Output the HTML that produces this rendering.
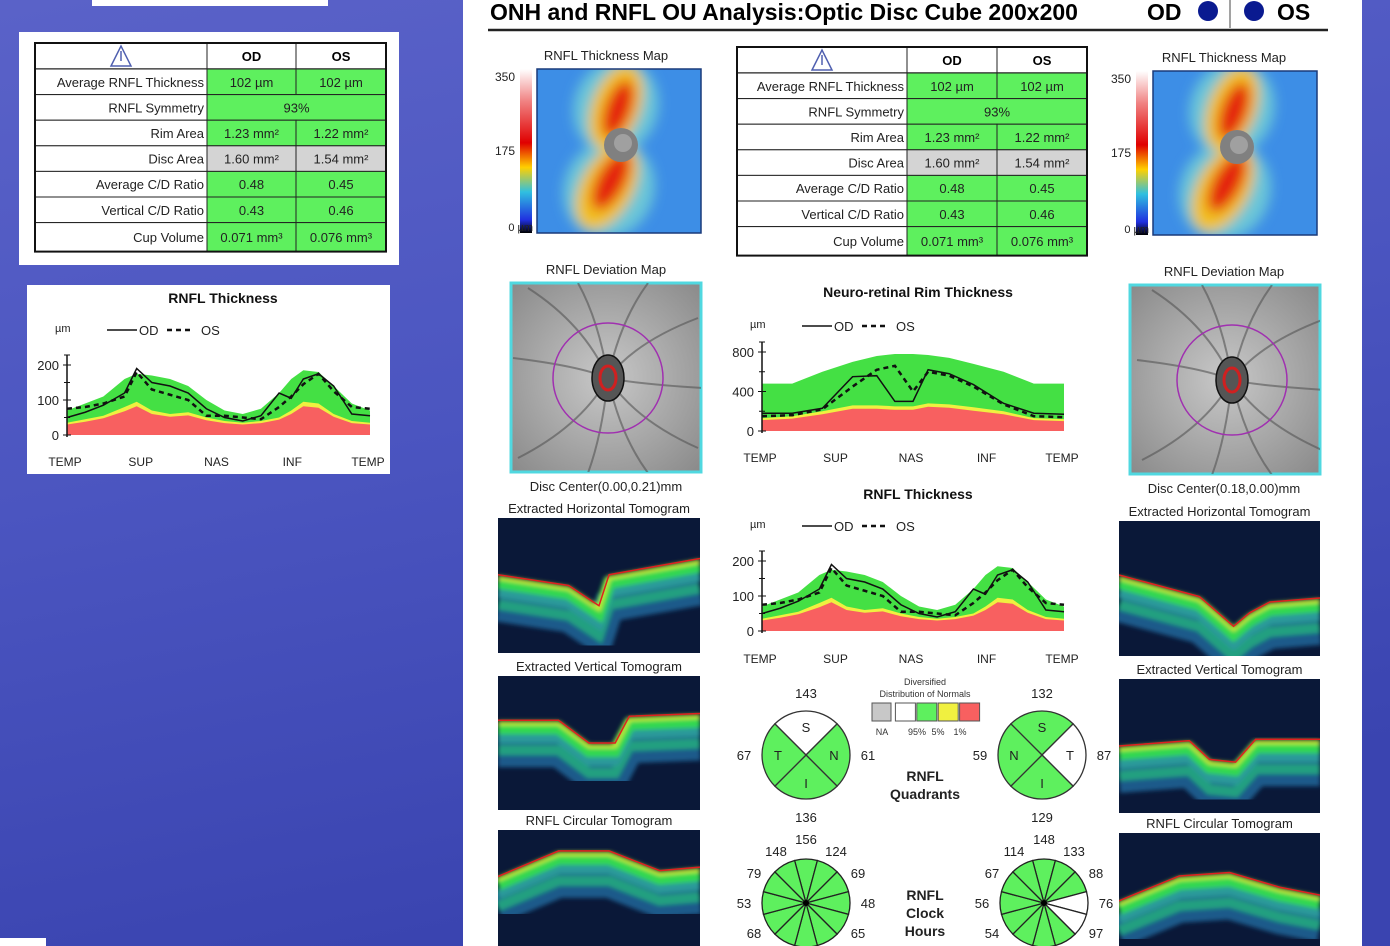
<!DOCTYPE html>
<html><head><meta charset="utf-8"><style>
html,body{margin:0;padding:0;width:1390px;height:946px;overflow:hidden}
svg{display:block;font-family:"Liberation Sans",sans-serif}
</style></head><body>
<svg id="s" width="1390" height="946" viewBox="0 0 1390 946" xmlns="http://www.w3.org/2000/svg">
<defs>
<linearGradient id="bg" x1="0" y1="0" x2="0.3" y2="1"><stop offset="0" stop-color="#5a62c8"/><stop offset="0.5" stop-color="#4b55c0"/><stop offset="1" stop-color="#3a44b0"/></linearGradient>
<linearGradient id="cbar" x1="0" y1="0" x2="0" y2="1"><stop offset="0" stop-color="#ffffff"/><stop offset="0.2" stop-color="#f08080"/><stop offset="0.45" stop-color="#e00000"/><stop offset="0.6" stop-color="#ffd000"/><stop offset="0.75" stop-color="#30c0e0"/><stop offset="0.92" stop-color="#2030e0"/><stop offset="1" stop-color="#000"/></linearGradient>
<filter id="blur6"><feGaussianBlur stdDeviation="6"/></filter>
<filter id="blur2"><feGaussianBlur stdDeviation="2"/></filter>
<radialGradient id="fundus" cx="0.5" cy="0.5" r="0.7"><stop offset="0" stop-color="#c8c8c8"/><stop offset="1" stop-color="#8a8a8a"/></radialGradient>
</defs>
<rect width="1390" height="946" fill="url(#bg)"/>
<rect x="92" y="0" width="236" height="6" fill="#fff"/>
<rect x="19" y="32" width="380" height="233" fill="#fff"/>
<g id="ltable"></g>
<rect x="27" y="285" width="363" height="189" fill="#fff"/>
<g id="lchart"></g>
<rect x="0" y="938" width="46" height="8" fill="#fff"/>
<rect x="463" y="0" width="899" height="946" fill="#fff"/>
<text x="490" y="20" font-size="23" font-weight="bold" fill="#000">ONH and RNFL OU Analysis:Optic Disc Cube 200x200</text>
<text x="1147" y="20" font-size="23" font-weight="bold">OD</text>
<circle cx="1208" cy="11" r="10" fill="#0a1a90"/>
<line x1="1230" y1="0" x2="1230" y2="28" stroke="#444" stroke-width="1"/>
<circle cx="1254" cy="11" r="10" fill="#0a1a90"/>
<text x="1277" y="20" font-size="23" font-weight="bold">OS</text>
<line x1="488" y1="30" x2="1328" y2="30" stroke="#222" stroke-width="2.5"/>
<g id="maps"></g>
<g id="ctable"></g>
<g id="nchart"></g>
<g id="cchart"></g>
<g id="tomos"></g>
<g id="quads"></g>
<g id="clocks"></g>
</svg>
<script>
// ---- chart data ----
const thickPos   = [0,0.06,0.12,0.19,0.23,0.28,0.34,0.40,0.46,0.52,0.58,0.64,0.70,0.74,0.78,0.83,0.88,0.94,1];
const thickOD    = [50,65,85,120,190,150,140,120,75,50,40,55,120,105,160,175,140,60,55];
const thickOS    = [75,80,90,110,180,130,115,100,55,55,50,45,80,110,145,175,125,80,75];
const thickGreen = [70,90,110,160,175,170,160,140,100,70,60,75,120,160,185,180,140,90,70];
const thickYellow= [35,45,55,80,95,70,60,65,50,40,35,40,50,70,95,90,60,40,35];
const thickRed   = [30,38,48,68,82,60,52,56,42,34,30,34,44,60,82,78,52,34,30];
const thickTicks = [0,100,200];
const xCats      = ["TEMP","SUP","NAS","INF","TEMP"];
const rimPos     = [0,0.1,0.2,0.3,0.38,0.44,0.5,0.55,0.62,0.7,0.8,0.9,1];
const rimOD      = [180,180,230,550,560,300,300,620,580,470,280,180,170];
const rimOS      = [150,160,220,450,620,660,400,600,560,450,270,150,140];
const rimGreen   = [480,480,600,700,760,780,780,770,740,680,600,480,480];
const rimYellow  = [130,150,200,260,260,250,250,280,270,240,200,130,120];
const rimRed     = [110,125,170,225,225,215,215,245,235,205,170,110,100];
const rimTicks   = [0,400,800];
const quadLabels = ["S","N","I","T"];
const quadOD     = [143,61,136,67];
const quadOS     = [132,59,129,87];
const clockOD    = [156,124,69,48,65,0,0,0,68,53,79,148];
const clockOS    = [148,133,88,76,97,0,0,0,54,56,67,114];
const tableRows  = ["Average RNFL Thickness","RNFL Symmetry","Rim Area","Disc Area","Average C/D Ratio","Vertical C/D Ratio","Cup Volume"];
const tableOD    = ["102 µm","93%","1.23 mm²","1.60 mm²","0.48","0.43","0.071 mm³"];
const tableOS    = ["102 µm","","1.22 mm²","1.54 mm²","0.45","0.46","0.076 mm³"];

const NS="http://www.w3.org/2000/svg";
function mk(tag,attrs,parent,txt){const e=document.createElementNS(NS,tag);for(const k in attrs)e.setAttribute(k,attrs[k]);if(txt!==undefined)e.textContent=txt;parent.appendChild(e);return e;}

function table(g,x,y,w,c1,c2,hdr,rh,lastH,fs){
  let yy=y;
  mk('rect',{x:x,y:yy,width:w,height:hdr,fill:'#fff',stroke:'#222','stroke-width':1.5},g);
  const tri=mk('path',{d:`M${(x+c1)/2-10} ${yy+hdr-3} L${(x+c1)/2} ${yy+3} L${(x+c1)/2+10} ${yy+hdr-3} Z M${(x+c1)/2} ${yy+8} V${yy+hdr-8}`,fill:'none',stroke:'#5060b0','stroke-width':1.5},g);
  
  
  mk('line',{x1:c1,y1:yy,x2:c1,y2:yy+hdr,stroke:'#222'},g);
  mk('line',{x1:c2,y1:yy,x2:c2,y2:yy+hdr,stroke:'#222'},g);
  mk('text',{x:(c1+c2)/2,y:yy+hdr/2+5,'font-size':fs,'font-weight':'bold','text-anchor':'middle'},g,'OD');
  mk('text',{x:(c2+x+w)/2,y:yy+hdr/2+5,'font-size':fs,'font-weight':'bold','text-anchor':'middle'},g,'OS');
  yy+=hdr;
  tableRows.forEach((r,i)=>{
    const h=i===tableRows.length-1?lastH:rh;
    const fill=i===3?'#d4d4d4':'#5ef05e';
    mk('rect',{x:x,y:yy,width:c1-x,height:h,fill:'#fff',stroke:'#222'},g);
    const row=mk('text',{x:c1-3,y:yy+h/2+5,'font-size':fs,'text-anchor':'end',fill:'#222'},g,r);
    
    
    if(tableOS[i]===''){
      mk('rect',{x:c1,y:yy,width:x+w-c1,height:h,fill:fill,stroke:'#222'},g);
      mk('text',{x:(c1+x+w)/2,y:yy+h/2+5,'font-size':fs,'text-anchor':'middle',fill:'#222'},g,tableOD[i]);
    }else{
      mk('rect',{x:c1,y:yy,width:c2-c1,height:h,fill:fill,stroke:'#222'},g);
      mk('rect',{x:c2,y:yy,width:x+w-c2,height:h,fill:fill,stroke:'#222'},g);
      mk('text',{x:(c1+c2)/2,y:yy+h/2+5,'font-size':fs,'text-anchor':'middle',fill:'#222'},g,tableOD[i]);
      mk('text',{x:(c2+x+w)/2,y:yy+h/2+5,'font-size':fs,'text-anchor':'middle',fill:'#222'},g,tableOS[i]);
    }
    yy+=h;
  });
  mk('rect',{x:x,y:y,width:w,height:yy-y,fill:'none',stroke:'#111','stroke-width':2},g);
}
table(document.getElementById('ltable'),35,43,351,207,296,26,25.6,29,13);
table(document.getElementById('ctable'),737,47,350,907,997,26,25.6,29,13);

function lineChart(g,o){
  const {x0,x1,y0,yTop,vmax,pos,od,os,green,yellow,red,ticks,title,tx,ty,ly,lab}=o;
  const X=p=>x0+p*(x1-x0), Y=v=>y0-(v/vmax)*(y0-yTop);
  mk('text',{x:tx,y:ty,'font-size':14,'font-weight':'bold','text-anchor':'middle',fill:'#111'},g,title);
  const area=(arr,col,nm)=>{let d=`M${X(pos[0])} ${y0}`;pos.forEach((p,i)=>d+=` L${X(p)} ${Y(arr[i])}`);d+=` L${X(pos[pos.length-1])} ${y0} Z`;const e=mk('path',{d:d,fill:col},g);};
  area(green,'#44e044','normal-band-green');area(yellow,'#f0f040','borderline-band-yellow');area(red,'#f86060','outside-band-red');
  const line=(arr,dash,nm)=>{const pts=pos.map((p,i)=>X(p)+','+Y(arr[i])).join(' ');const e=mk('polyline',{points:pts,fill:'none',stroke:'#111','stroke-width':dash?2.5:1.5,'stroke-dasharray':dash?'5,4':'none'},g);};
  line(od,false,'od-line');line(os,true,'os-line');
  mk('line',{x1:x0,y1:y0+2,x2:x0,y2:yTop-10,stroke:'#111','stroke-width':1.5},g);
  ticks.forEach(t=>{mk('line',{x1:x0-4,y1:Y(t),x2:x0+4,y2:Y(t),stroke:'#111'},g);mk('text',{x:x0-8,y:Y(t)+5,'font-size':13,'text-anchor':'end',fill:'#222'},g,String(t));});
  for(let i=0;i<ticks.length-1;i++){const m=(ticks[i]+ticks[i+1])/2;mk('line',{x1:x0-3,y1:Y(m),x2:x0+3,y2:Y(m),stroke:'#111'},g);}
  mk('line',{x1:x0-3,y1:yTop-10,x2:x0+3,y2:yTop-10,stroke:'#111'},g);
  mk('text',{x:x0-12,y:ly+2,'font-size':11,fill:'#222'},g,'µm');
  mk('line',{x1:x0+40,y1:ly,x2:x0+70,y2:ly,stroke:'#111','stroke-width':1.5},g);
  mk('text',{x:x0+72,y:ly+5,'font-size':13,fill:'#222'},g,'OD');
  mk('line',{x1:x0+100,y1:ly,x2:x0+126,y2:ly,stroke:'#111','stroke-width':2.5,'stroke-dasharray':'5,4'},g);
  mk('text',{x:x0+134,y:ly+5,'font-size':13,fill:'#222'},g,'OS');
  xCats.forEach((c,i)=>{const e=mk('text',{x:X(i/4)-2,y:lab,'font-size':12,'text-anchor':'middle',fill:'#222'},g,c);});
}
lineChart(document.getElementById('lchart'),{x0:67,x1:370,y0:435,yTop:365,vmax:200,pos:thickPos,od:thickOD,os:thickOS,green:thickGreen,yellow:thickYellow,red:thickRed,ticks:thickTicks,title:'RNFL Thickness',tx:223,ty:303,ly:330,lab:466});
lineChart(document.getElementById('nchart'),{x0:762,x1:1064,y0:431,yTop:352,vmax:800,pos:rimPos,od:rimOD,os:rimOS,green:rimGreen,yellow:rimYellow,red:rimRed,ticks:rimTicks,title:'Neuro-retinal Rim Thickness',tx:918,ty:297,ly:326,lab:462});
lineChart(document.getElementById('cchart'),{x0:762,x1:1064,y0:631,yTop:561,vmax:200,pos:thickPos,od:thickOD,os:thickOS,green:thickGreen,yellow:thickYellow,red:thickRed,ticks:thickTicks,title:'RNFL Thickness',tx:918,ty:499,ly:526,lab:663});

// ---- thickness and deviation maps (images) ----
const maps=document.getElementById('maps');
function thickMap(x,y,titleX,titleY,side){
  const g=mk('g',{},maps);
  
  
  mk('text',{x:titleX,y:titleY,'font-size':13,'text-anchor':'middle',fill:'#222'},g,'RNFL Thickness Map');
  mk('rect',{x:x-17,y:y,width:12,height:164,fill:'url(#cbar)'},g);
  mk('text',{x:x-22,y:y+12,'font-size':12,'text-anchor':'end',fill:'#222'},g,'350');
  mk('text',{x:x-22,y:y+86,'font-size':12,'text-anchor':'end',fill:'#222'},g,'175');
  mk('text',{x:x-4,y:y+162,'font-size':11,'text-anchor':'end',fill:'#222'},g,'0 µm');
  mk('rect',{x:x,y:y,width:164,height:164,fill:'#3d8ee6'},g);
  const cid='mc'+side;
  const cp=mk('clipPath',{id:cid},g);
  mk('rect',{x:x,y:y,width:164,height:164},cp);
  const outer=mk('g',{'clip-path':`url(#${cid})`},g);
  const c=mk('g',{filter:'url(#blur6)'},outer);
  const cx=x+84,cy=y+76;
  mk('ellipse',{cx:cx-5,cy:y+38,rx:42,ry:48,fill:'#6ac6d8',transform:`rotate(20 ${cx-5} ${y+38})`},c);
  mk('ellipse',{cx:cx-12,cy:y+120,rx:45,ry:50,fill:'#6ac6d8',transform:`rotate(25 ${cx-12} ${y+120})`},c);
  mk('ellipse',{cx:cx-5,cy:y+38,rx:24,ry:44,fill:'#f2c020',transform:`rotate(20 ${cx-5} ${y+38})`},c);
  mk('ellipse',{cx:cx-14,cy:y+118,rx:26,ry:46,fill:'#f2c020',transform:`rotate(28 ${cx-14} ${y+118})`},c);
  mk('ellipse',{cx:cx-3,cy:y+40,rx:13,ry:30,fill:'#e42010',transform:`rotate(20 ${cx-3} ${y+40})`},c);
  mk('ellipse',{cx:cx-10,cy:y+112,rx:14,ry:32,fill:'#e42010',transform:`rotate(28 ${cx-10} ${y+112})`},c);
  mk('rect',{x:x,y:y,width:164,height:164,fill:'none',stroke:'#1a3a7a','stroke-width':1.5},g);
  mk('circle',{cx:cx,cy:cy,r:17,fill:'#808080'},g);
  mk('circle',{cx:cx+2,cy:cy-2,r:9,fill:'#a0a0a0'},g);
}
thickMap(537,69,606,60,'od');
thickMap(1153,71,1224,62,'os');
function devMap(x,y,w,h,titleX,cap,capY,side,pcx,pcy){
  const g=mk('g',{},maps);
  
  
  mk('text',{x:titleX,y:y-9,'font-size':13,'text-anchor':'middle',fill:'#222'},g,'RNFL Deviation Map');
  mk('rect',{x:x,y:y,width:w,height:h,fill:'url(#fundus)',stroke:'#50d8e0','stroke-width':3},g);
  const dc='dc'+side;
  const cp=mk('clipPath',{id:dc},g);
  mk('rect',{x:x,y:y,width:w,height:h},cp);
  const v=mk('g',{stroke:'#555','stroke-width':2,fill:'none',opacity:0.6,'clip-path':`url(#${dc})`},g);
  [[-80,-90],[-30,-95],[40,-95],[90,-60],[95,10],[90,70],[40,95],[-20,95],[-90,80],[-95,-20]].forEach(([dx,dy])=>{
    mk('path',{d:`M${pcx} ${pcy} Q${pcx+dx*0.3} ${pcy+dy*0.6} ${pcx+dx} ${pcy+dy}`},v);});
  mk('circle',{cx:pcx,cy:pcy,r:55,fill:'none',stroke:'#a030b0','stroke-width':1.5},g);
  mk('ellipse',{cx:pcx,cy:pcy,rx:16,ry:23,fill:'#555',stroke:'#111','stroke-width':1.5},g);
  mk('ellipse',{cx:pcx,cy:pcy,rx:8,ry:12,fill:'none',stroke:'#d02020','stroke-width':3},g);
  mk('text',{x:titleX,y:capY,'font-size':13,'text-anchor':'middle',fill:'#222'},g,cap);
}
devMap(511,283,190,189,606,'Disc Center(0.00,0.21)mm',491,'od',608,378);
devMap(1130,285,190,189,1224,'Disc Center(0.18,0.00)mm',493,'os',1232,380);

// ---- tomograms (images) ----
const tomos=document.getElementById('tomos');
function tomo(x,y,w,h,title,prof,side,nm){
  const g=mk('g',{},tomos);
  
  
  mk('text',{x:x+w/2,y:y-5,'font-size':13,'text-anchor':'middle',fill:'#222'},g,title);
  mk('rect',{x:x,y:y,width:w,height:h,fill:'#0a1838'},g);
  let d='';
  prof.forEach((p,i)=>{d+=(i?' L':'M')+(x+p[0]*w)+' '+(y+p[1]*h);});
  const cl='cl'+side+nm;
  const cp=mk('clipPath',{id:cl},g);
  mk('rect',{x:x,y:y,width:w,height:h},cp);
  const b=mk('g',{'clip-path':`url(#${cl})`},g);
  const bb=mk('g',{filter:'url(#blur2)'},b);
  mk('path',{d:d,fill:'none',stroke:'#1a5a8a','stroke-width':30,transform:'translate(0,32)'},bb);
  mk('path',{d:d,fill:'none',stroke:'#20a080','stroke-width':10,transform:'translate(0,30)'},bb);
  mk('path',{d:d,fill:'none',stroke:'#2a9a9a','stroke-width':10,transform:'translate(0,18)'},bb);
  mk('path',{d:d,fill:'none',stroke:'#30d850','stroke-width':12,transform:'translate(0,8)'},bb);
  mk('path',{d:d,fill:'none',stroke:'#c8ec30','stroke-width':4,transform:'translate(0,3)'},bb);
  mk('path',{d:d,fill:'none',stroke:'#e02020','stroke-width':1.5},b);
}
const hL=[[0,0.42],[0.35,0.5],[0.47,0.62],[0.5,0.65],[0.55,0.42],[0.7,0.38],[1,0.3]];
const vL=[[0,0.33],[0.3,0.33],[0.45,0.5],[0.58,0.5],[0.65,0.3],[1,0.28]];
const cL=[[0,0.4],[0.3,0.18],[0.55,0.18],[0.8,0.35],[1,0.32]];
const hR=[[0,0.4],[0.4,0.56],[0.57,0.78],[0.65,0.68],[0.75,0.6],[1,0.57]];
const vR=[[0,0.5],[0.35,0.46],[0.45,0.6],[0.58,0.62],[0.68,0.45],[1,0.45]];
const cR=[[0,0.6],[0.3,0.38],[0.55,0.35],[0.8,0.48],[1,0.55]];
tomo(498,518,202,135,'Extracted Horizontal Tomogram',hL,'od','horizontal-tomogram');
tomo(498,676,202,134,'Extracted Vertical Tomogram',vL,'od','vertical-tomogram');
tomo(498,830,202,116,'RNFL Circular Tomogram',cL,'od','circular-tomogram');
tomo(1119,521,201,135,'Extracted Horizontal Tomogram',hR,'os','horizontal-tomogram');
tomo(1119,679,201,134,'Extracted Vertical Tomogram',vR,'os','vertical-tomogram');
tomo(1119,833,201,113,'RNFL Circular Tomogram',cR,'os','circular-tomogram');

// ---- quadrants ----
const quads=document.getElementById('quads');
function pt(cx,cy,r,a){return [cx+r*Math.sin(a),cy-r*Math.cos(a)];}
function quad(cx,cy,vals,order,whites,side){
  const r=44;
  for(let i=0;i<4;i++){
    const a0=(i*90-45)*Math.PI/180,a1=(i*90+45)*Math.PI/180;
    const p0=pt(cx,cy,r,a0),p1=pt(cx,cy,r,a1);
    const e=mk('path',{d:`M${cx} ${cy} L${p0[0]} ${p0[1]} A${r} ${r} 0 0 1 ${p1[0]} ${p1[1]} Z`,fill:whites.includes(i)?'#fff':'#5ef05e',stroke:'#333','stroke-width':1.3},quads);
    
    
    const lp=pt(cx,cy,28,i*90*Math.PI/180);
    mk('text',{x:lp[0],y:lp[1]+5,'font-size':13,'text-anchor':'middle',fill:'#222'},quads,order[i]);
    const vp=pt(cx,cy,62,i*90*Math.PI/180);
    mk('text',{x:vp[0],y:vp[1]+5,'font-size':13,'text-anchor':'middle',fill:'#222'},quads,String(vals[i]));
  }
}
quad(806,755,[quadOD[0],quadOD[1],quadOD[2],quadOD[3]],['S','N','I','T'],[0],'od');
quad(1042,755,[quadOS[0],quadOS[3],quadOS[2],quadOS[1]],['S','T','I','N'],[1],'os');
const lg=mk('g',{},quads);


mk('text',{x:925,y:685,'font-size':9,'text-anchor':'middle',fill:'#333'},lg,'Diversified');
mk('text',{x:925,y:697,'font-size':9,'text-anchor':'middle',fill:'#333'},lg,'Distribution of Normals');
['#c8c8c8','#fff','#5ef05e','#f0f040','#f86060'].forEach((c,i)=>mk('rect',{x:872+i*21.4+(i?2:0),y:703,width:i?20:19,height:18,fill:c,stroke:'#555'},lg));
mk('text',{x:882,y:735,'font-size':9,'text-anchor':'middle',fill:'#333'},lg,'NA');
mk('text',{x:917,y:735,'font-size':9,'text-anchor':'middle',fill:'#333'},lg,'95%');
mk('text',{x:938,y:735,'font-size':9,'text-anchor':'middle',fill:'#333'},lg,'5%');
mk('text',{x:960,y:735,'font-size':9,'text-anchor':'middle',fill:'#333'},lg,'1%');
mk('text',{x:925,y:781,'font-size':14,'font-weight':'bold','text-anchor':'middle',fill:'#222'},quads,'RNFL');
mk('text',{x:925,y:799,'font-size':14,'font-weight':'bold','text-anchor':'middle',fill:'#222'},quads,'Quadrants');

// ---- clock hours ----
const clocks=document.getElementById('clocks');
function clock(cx,cy,vals,whites,side){
  const r=44;
  for(let i=0;i<12;i++){
    const a0=(i*30-15)*Math.PI/180,a1=(i*30+15)*Math.PI/180;
    const p0=pt(cx,cy,r,a0),p1=pt(cx,cy,r,a1);
    const e=mk('path',{d:`M${cx} ${cy} L${p0[0]} ${p0[1]} A${r} ${r} 0 0 1 ${p1[0]} ${p1[1]} Z`,fill:whites.includes(i)?'#fff':'#5ef05e',stroke:'#222','stroke-width':1.3},clocks);
    
    
    if(vals[i]){
      const rr=(i===0)?64:(i%3===0?62:60);
      const vp=pt(cx,cy,rr,i*30*Math.PI/180);
      mk('text',{x:vp[0],y:vp[1]+5,'font-size':13,'text-anchor':'middle',fill:'#222'},clocks,String(vals[i]));
    }
  }
  mk('circle',{cx:cx,cy:cy,r:3,fill:'#000'},clocks);
}
clock(806,903,clockOD,[],'od');
clock(1044,903,clockOS,[3,4],'os');
mk('text',{x:925,y:900,'font-size':14,'font-weight':'bold','text-anchor':'middle',fill:'#222'},clocks,'RNFL');
mk('text',{x:925,y:918,'font-size':14,'font-weight':'bold','text-anchor':'middle',fill:'#222'},clocks,'Clock');
mk('text',{x:925,y:936,'font-size':14,'font-weight':'bold','text-anchor':'middle',fill:'#222'},clocks,'Hours');
</script>
</body></html>
